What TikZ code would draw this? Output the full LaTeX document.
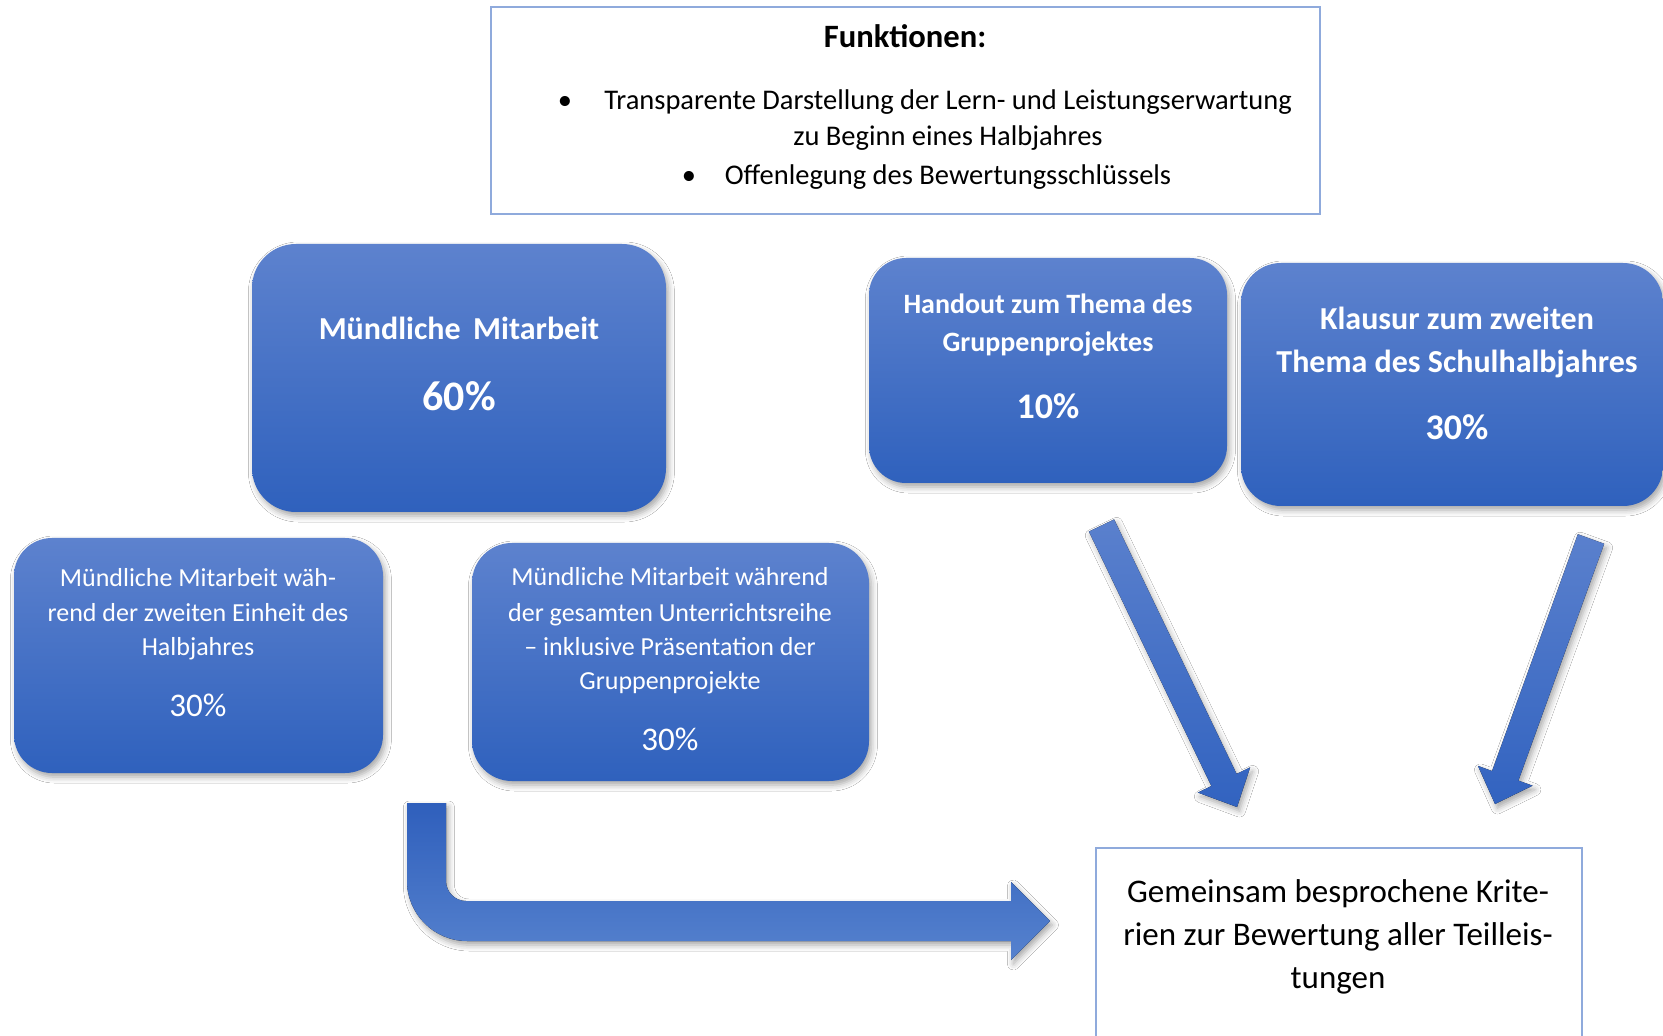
\documentclass[tikz,border=0pt]{standalone}
\usepackage{fontspec}
\setmainfont{Carlito}
\usetikzlibrary{calc,fit,shadows.blur}
\definecolor{bxtop}{RGB}{93,130,206}
\definecolor{bxmid}{RGB}{66,110,198}
\definecolor{bxbot}{RGB}{47,97,189}
\definecolor{framecol}{RGB}{143,170,220}
\definecolor{artop}{RGB}{90,128,205}
\definecolor{arbot}{RGB}{50,99,192}
\definecolor{bttop}{RGB}{47,95,188}
\definecolor{btbot}{RGB}{86,130,206}
\newcommand\fsz[1]{\fontsize{#1}{#1}\selectfont}
\newcommand\myblockarrow[3]{%
  \coordinate (hb) at ($(#3)!15pt!(#2)$);
  \fill[#1] ($(#2)!7pt!90:(#3)$) -- ($(hb)!7pt!90:(#3)$) -- ($(hb)!14.5pt!90:(#3)$) -- (#3)
    -- ($(hb)!14.5pt!-90:(#3)$) -- ($(hb)!7pt!-90:(#3)$) -- ($(#2)!7pt!-90:(#3)$) -- cycle;}
\begin{document}
\begin{tikzpicture}[x=0.5pt,y=-0.5pt,
  softshadow/.style={blur shadow={shadow xshift=1.2pt, shadow yshift=-2pt, shadow blur radius=3pt, shadow opacity=35}},
  bluebox/.style={rectangle, rounded corners=#1, inner sep=0pt, draw=none,
    top color=bxtop, middle color=bxmid, bottom color=bxbot, softshadow},
  bluebox/.default=20pt,
  framebox/.style={rectangle, draw=framecol, line width=1pt, fill=white, inner sep=0pt},
  whtxt/.style={text=white, inner sep=0pt, anchor=base},
  blktxt/.style={text=black, inner sep=0pt, anchor=base},
  arrowfill/.style={top color=artop, bottom color=arbot, softshadow},
  bentfill/.style={top color=bttop, bottom color=btbot, softshadow}]
\useasboundingbox (0,0) rectangle (1663,1036);
\fill[white] (0,0) rectangle (1663,1036);

% top box
\node[framebox, fit={(491,7)(1320,214)}] (fkt) {};
\node[blktxt, font=\bfseries\fsz{16.3}] (fkthead) at (905,48) {Funktionen:};
\node[blktxt, font=\fsz{14.25}] (fktb1) at (565,110) {•};
\node[blktxt, font=\fsz{14.25}] (fktl1) at (948,110) {Transparente Darstellung der Lern- und Leistungserwartung};
\node[blktxt, font=\fsz{14.25}] (fktl2) at (948,146) {zu Beginn eines Halbjahres};
\node[blktxt, font=\fsz{14.25}] (fktb2) at (689,185) {•};
\node[blktxt, font=\fsz{14.25}] (fktl3) at (948,185) {Offenlegung des Bewertungsschlüssels};

% Muendliche Mitarbeit 60%
\node[bluebox=22pt, fit={(252,244)(666,512)}] (mm) {};
\node[whtxt, font=\bfseries\fsz{16}] (mm1) at (459,340) {Mündliche\, Mitarbeit};
\node[whtxt, font=\bfseries\fsz{21}] (mm2) at (459,411) {60\%};

% Handout
\node[bluebox=18.5pt, fit={(869,258)(1227,483)}] (ho) {};
\node[whtxt, font=\bfseries\fsz{14}] (ho1) at (1048,314) {Handout zum Thema des};
\node[whtxt, font=\bfseries\fsz{14}] (ho2) at (1048,352) {Gruppenprojektes};
\node[whtxt, font=\bfseries\fsz{18}] (ho3) at (1048,419) {10\%};

% Klausur
\node[bluebox=20pt, fit={(1241,263)(1663,506)}] (kl) {};
\node[whtxt, font=\bfseries\fsz{16}] (kl1) at (1457,330) {Klausur zum zweiten};
\node[whtxt, font=\bfseries\fsz{16}] (kl2) at (1457,373) {Thema des Schulhalbjahres};
\node[whtxt, font=\bfseries\fsz{18}] (kl3) at (1457,440) {30\%};

% left lower
\node[bluebox=19pt, fit={(14,538)(383,773)}] (ll) {};
\node[whtxt, font=\fsz{13}] (ll1) at (198,587) {Mündliche Mitarbeit wäh-};
\node[whtxt, font=\fsz{13}] (ll2) at (198,621) {rend der zweiten Einheit des};
\node[whtxt, font=\fsz{13}] (ll3) at (198,655) {Halbjahres};
\node[whtxt, font=\fsz{16.5}] (ll4) at (198,716) {30\%};

% middle lower
\node[bluebox=20pt, fit={(472,543)(869,781)}] (ml) {};
\node[whtxt, font=\fsz{13}] (ml1) at (670,586) {Mündliche Mitarbeit während};
\node[whtxt, font=\fsz{13}] (ml2) at (670,621) {der gesamten Unterrichtsreihe};
\node[whtxt, font=\fsz{13}] (ml3) at (670,655) {– inklusive Präsentation der};
\node[whtxt, font=\fsz{13}] (ml4) at (670,689) {Gruppenprojekte};
\node[whtxt, font=\fsz{16.5}] (ml5) at (670,750) {30\%};

% bottom right box
\node[framebox, fit={(1096,848)(1582,1050)}] (krit) {};
\node[blktxt, font=\fsz{16.5}] (krit1) at (1338,902) {Gemeinsam besprochene Krite-};
\node[blktxt, font=\fsz{16.5}] (krit2) at (1338,945) {rien zur Bewertung aller Teilleis-};
\node[blktxt, font=\fsz{16.5}] (krit3) at (1338,988) {tungen};

% arrows
\coordinate (a1s) at (1101.5,525.5);
\coordinate (a1t) at (1237,807);
\coordinate (a2s) at (1591,539);
\coordinate (a2t) at (1495,804);
\myblockarrow{arrowfill}{a1s}{a1t}
\myblockarrow{arrowfill}{a2s}{a2t}

\coordinate (bents) at (426.5,803);
\coordinate (bentt) at (1050,921);
\fill[bentfill] (407,803) -- (446,803) -- (446,881) .. controls (446,892) and (455,901) .. (466,901)
  -- (1011,901) -- (1011,882) -- (bentt) -- (1011,960) -- (1011,941) -- (467,941)
  .. controls (434,941) and (407,914) .. (407,881) -- cycle;
\end{tikzpicture}
\end{document}
